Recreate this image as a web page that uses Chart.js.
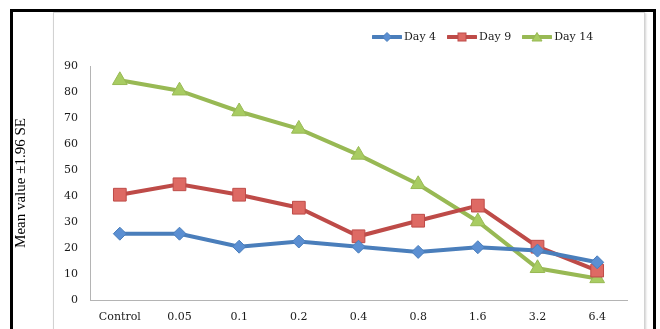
<!DOCTYPE html>
<html>
<head>
<meta charset="utf-8">
<script src="https://cdn.jsdelivr.net/npm/chart.js@4/dist/chart.umd.min.js"></script>
<style>
  html, body { margin: 0; padding: 0; background: #fff; overflow: hidden; }
  #wrap { position: relative; width: 660px; height: 329px; overflow: hidden; }
  #outer { position: absolute; left: 10px; top: 9px; width: 640px; height: 400px; border: 3px solid #000; }
  #frame { position: absolute; left: 53px; top: 12px; width: 590px; height: 400px; border: 1px solid #d2d2d2; box-shadow: 1px 1px 2px rgba(0,0,0,0.18); }
  #chart { position: absolute; left: 0; top: 0; }
  #legend { position: absolute; left: 372px; top: 30px; display: flex; align-items: center;
            font-family: "DejaVu Serif", serif; font-size: 11px; color: #1a1a1a; }
  .item { display: flex; align-items: center; margin-right: 11px; }
  .item svg { margin-right: 2px; }
</style>
</head>
<body>
<div id="wrap">
  <div id="outer"></div>
  <div id="frame"></div>
  <canvas id="chart" width="660" height="329"></canvas>
  <div id="legend"></div>
</div>
<script>
// concentrations on the x axis
var doses = ['Control', '0.05', '0.1', '0.2', '0.4', '0.8', '1.6', '3.2', '6.4'];
var day4  = [25.5, 25.5, 20.5, 22.5, 20.5, 18.5, 20.3, 19, 14.5];
var day9  = [40.5, 44.5, 40.5, 35.5, 24.5, 30.5, 36.3, 20.5, 11.3];
var day14 = [84.5, 80.5, 72.5, 65.8, 55.8, 44.5, 30.2, 12.2, 8.3];
var yTicks = [0, 10, 20, 30, 40, 50, 60, 70, 80, 90];

var series = [
   {label: 'Day 4',  data: day4,  line: '#4a7ebb', fill: '#5b8fd2', point: 'rectRot',  radius: 6.5},
   {label: 'Day 9',  data: day9,  line: '#be4b48', fill: '#de6a64', point: 'rect',     radius: 9},
   {label: 'Day 14', data: day14, line: '#98b954', fill: '#a8cc62', point: 'triangle', radius: 8.5}
];

var ctx = document.getElementById('chart').getContext('2d');
var chart = new Chart(ctx, {
   type: 'line',
   data: {
      labels: doses,
      datasets: series.map(function (s) {
         return {
            label: s.label,
            data: s.data,
            borderColor: s.line,
            backgroundColor: s.fill,
            borderWidth: 4,
            tension: 0,
            pointStyle: s.point,
            pointRadius: s.radius,
            pointBackgroundColor: s.fill,
            pointBorderColor: s.line,
            pointBorderWidth: 1
         };
      })
   },
   options: {
      responsive: false,
      animation: false,
      events: [],
      layout: { padding: { left: 12, right: 33, top: 66, bottom: 0 } },
      plugins: { legend: { display: false }, tooltip: { enabled: false } },
      scales: {
         x: {
            offset: true,
            grid: { display: true, color: 'rgba(0,0,0,0)', drawTicks: false },
            border: { display: true, color: '#b4b4b4', width: 1 },
            ticks: { color: '#1a1a1a', padding: 11, font: { family: 'DejaVu Serif', size: 11 } },
            afterFit: function (scale) { scale.height = 29; }
         },
         y: {
            min: 0,
            max: 90,
            afterBuildTicks: function (scale) {
               scale.ticks = yTicks.map(function (v) { return {value: v}; });
            },
            grid: { display: true, color: 'rgba(0,0,0,0)', drawTicks: false },
            border: { display: true, color: '#b4b4b4', width: 1 },
            ticks: { color: '#1a1a1a', padding: 12, font: { family: 'DejaVu Serif', size: 11 } },
            title: {
               display: true,
               text: 'Mean value ±1.96 SE',
               color: '#000',
               padding: { top: 0, bottom: 0 },
               font: { family: 'Liberation Serif', size: 15 }
            },
            afterFit: function (scale) { scale.width = 78; }
         }
      }
   }
});

// legend: line with small marker, built from the datasets
function markerSvg(s) {
   var m = '';
   if (s.point === 'rectRot') m = '<polygon points="15,1.5 19.5,6 15,10.5 10.5,6" />';
   else if (s.point === 'rect') m = '<rect x="11" y="2" width="8" height="8" />';
   else m = '<polygon points="15,1.5 20,10 10,10" />';
   return '<svg width="30" height="12" viewBox="0 0 30 12">' +
      '<line x1="1" y1="6" x2="29" y2="6" stroke="' + s.line + '" stroke-width="4" stroke-linecap="round"/>' +
      '<g fill="' + s.fill + '" stroke="' + s.line + '" stroke-width="1">' + m + '</g></svg>';
}
var legend = document.getElementById('legend');
series.forEach(function (s) {
   var d = document.createElement('div');
   d.className = 'item';
   d.innerHTML = markerSvg(s) + '<span>' + s.label + '</span>';
   legend.appendChild(d);
});
</script>
</body>
</html>
